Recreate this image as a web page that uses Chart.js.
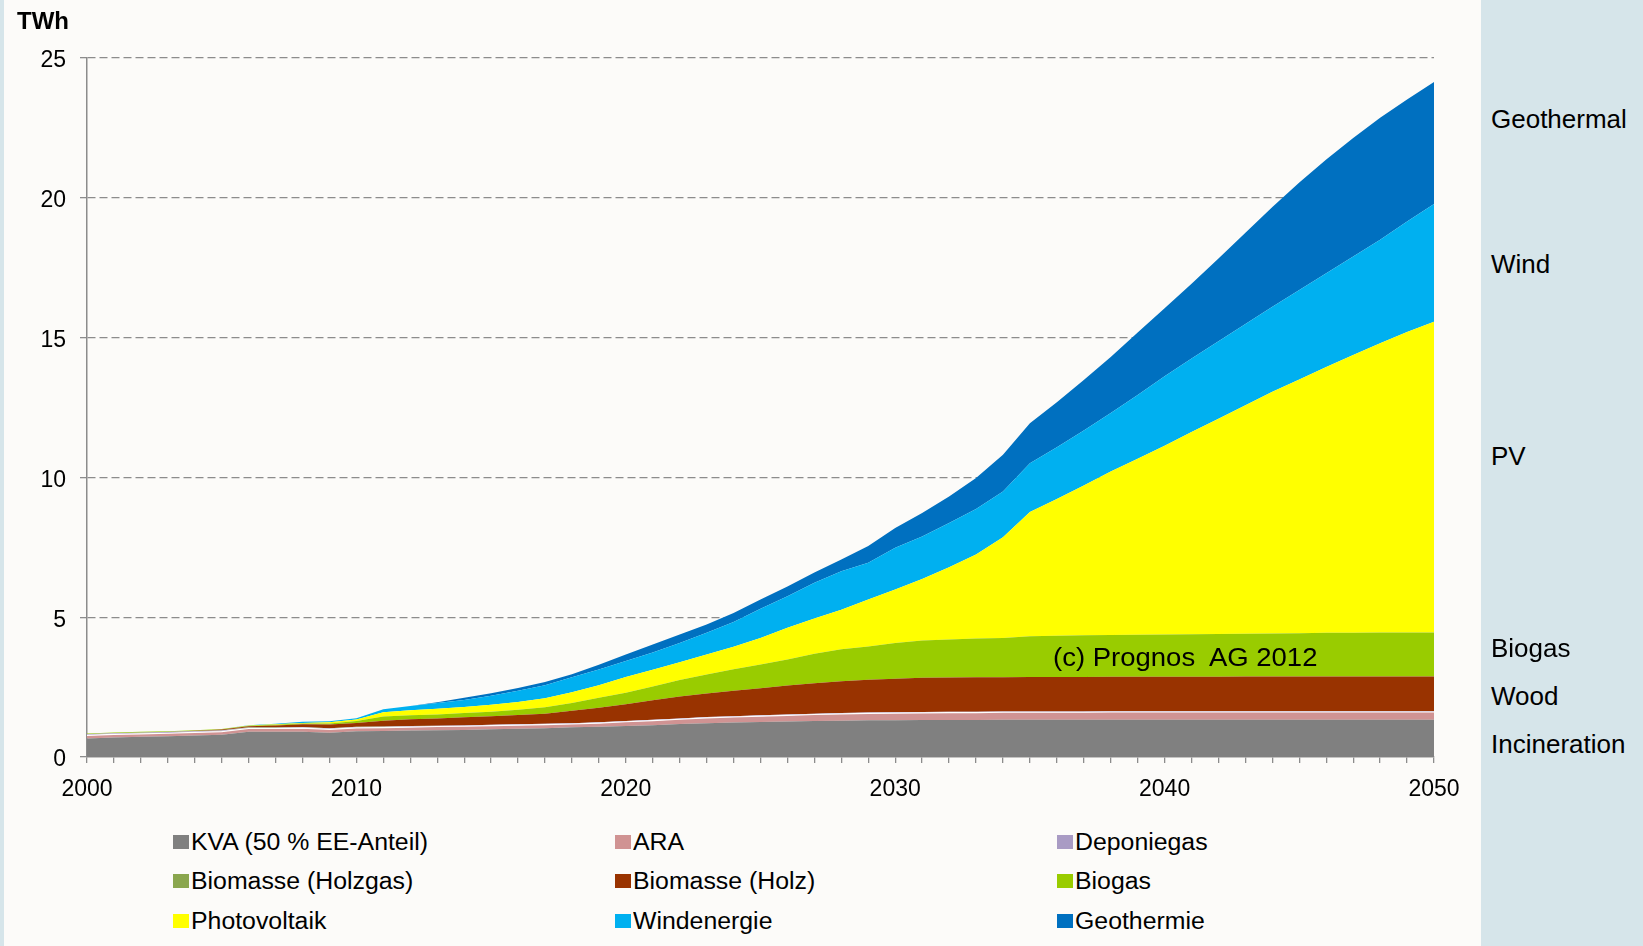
<!DOCTYPE html>
<html>
<head>
<meta charset="utf-8">
<title>Stromerzeugung erneuerbare Energien</title>
<script src="https://cdn.jsdelivr.net/npm/chart.js@4.4.1/dist/chart.umd.min.js"></script>
<style>
  body { margin: 0; width: 1643px; height: 946px; background: #d6e5ea; position: relative; overflow: hidden;
         font-family: 'Liberation Sans', Arial, sans-serif; color: #000; }
  #panel { position: absolute; left: 4px; top: 0; width: 1477px; height: 946px; background: #fcfbf9; }
  #chart { position: absolute; left: 0; top: 1px; }
  .unit { position: absolute; left: 13px; top: 7px; font-size: 24px; line-height: 28px; font-weight: bold; }
  .copy { position: absolute; left: 1049px; top: 643px; font-size: 25px; line-height: 28px;
          transform: scaleX(1.1); transform-origin: left center; white-space: nowrap; }
  .item { position: absolute; height: 26px; display: flex; align-items: center; white-space: nowrap; }
  .item .box { width: 16px; height: 14px; margin-right: 2px; }
  .item .txt { font-size: 23px; display: inline-block; transform: scaleX(1.08); transform-origin: left center; }
  .side { position: absolute; left: 1491px; font-size: 26px; line-height: 30px; white-space: nowrap; }
</style>
</head>
<body>
<div id="panel">
  <canvas id="chart" width="1477" height="800"></canvas>
  <div class="unit">TWh</div>
  <div class="copy">(c) Prognos&nbsp; AG 2012</div>
  <div id="legend"></div>
</div>
<div id="side"></div>
<script>
// Years 2000 - 2050
const years = [2000,2001,2002,2003,2004,2005,2006,2007,2008,2009,
  2010,2011,2012,2013,2014,2015,2016,2017,2018,2019,
  2020,2021,2022,2023,2024,2025,2026,2027,2028,2029,
  2030,2031,2032,2033,2034,2035,2036,2037,2038,2039,
  2040,2041,2042,2043,2044,2045,2046,2047,2048,2049,2050];

// TWh per source
const kva = [0.66,0.70,0.72,0.74,0.77,0.80,0.90,0.90,0.90,0.87,
  0.92,0.93,0.95,0.96,0.97,0.99,1.01,1.03,1.06,1.08,
  1.11,1.14,1.18,1.21,1.23,1.25,1.27,1.29,1.30,1.31,
  1.31,1.32,1.32,1.32,1.33,1.33,1.33,1.33,1.33,1.33,
  1.33,1.33,1.33,1.33,1.33,1.33,1.33,1.33,1.33,1.33,1.33];
const ara = [0.11,0.11,0.11,0.11,0.11,0.11,0.12,0.12,0.13,0.12,
  0.12,0.12,0.12,0.13,0.13,0.13,0.13,0.13,0.12,0.13,
  0.15,0.16,0.17,0.19,0.20,0.21,0.22,0.23,0.24,0.25,
  0.26,0.26,0.27,0.27,0.27,0.27,0.27,0.27,0.28,0.28,
  0.28,0.28,0.28,0.28,0.28,0.28,0.28,0.28,0.28,0.28,0.28];
const deponiegas = [0.04,0.04,0.04,0.04,0.04,0.04,0.03,0.03,0.03,0.03,
  0.03,0.03,0.03,0.03,0.03,0.03,0.03,0.03,0.03,0.03,
  0.03,0.03,0.03,0.03,0.03,0.03,0.03,0.03,0.03,0.03,
  0.03,0.03,0.03,0.03,0.03,0.03,0.03,0.03,0.03,0.03,
  0.03,0.03,0.03,0.03,0.03,0.03,0.03,0.03,0.03,0.03,0.03];
const holzgas = [0.01,0.01,0.01,0.01,0.01,0.01,0.01,0.01,0.01,0.01,
  0.01,0.01,0.01,0,0,0,0,0,0,0,
  0,0,0,0,0,0,0,0,0,0,
  0,0,0,0,0,0,0,0,0,0,
  0,0,0,0,0,0,0,0,0,0,0];
const holz = [0,0,0,0,0.01,0.02,0.04,0.07,0.10,0.13,
  0.14,0.21,0.24,0.26,0.29,0.31,0.33,0.36,0.44,0.52,
  0.60,0.70,0.78,0.84,0.91,0.97,1.04,1.09,1.14,1.17,
  1.20,1.22,1.22,1.23,1.22,1.23,1.23,1.23,1.23,1.23,
  1.23,1.23,1.23,1.24,1.24,1.24,1.24,1.24,1.24,1.24,1.24];
const biogas = [0.02,0.02,0.02,0.02,0.02,0.02,0.02,0.02,0.03,0.04,
  0.07,0.15,0.14,0.14,0.15,0.16,0.19,0.23,0.28,0.36,
  0.41,0.49,0.59,0.68,0.77,0.85,0.93,1.05,1.14,1.19,
  1.28,1.34,1.36,1.39,1.41,1.46,1.48,1.49,1.49,1.50,
  1.51,1.52,1.53,1.53,1.54,1.55,1.56,1.56,1.57,1.57,1.57];
const pv = [0,0,0,0,0,0,0.01,0.02,0.02,0.04,
  0.05,0.15,0.18,0.21,0.22,0.25,0.28,0.32,0.39,0.45,
  0.56,0.60,0.64,0.72,0.80,0.95,1.13,1.26,1.42,1.68,
  1.91,2.20,2.59,3.00,3.60,4.44,4.89,5.36,5.85,6.30,
  6.75,7.23,7.70,8.17,8.64,9.07,9.51,9.94,10.35,10.75,11.12];
const wind = [0,0,0,0,0,0,0.01,0.02,0.04,0.04,
  0.05,0.11,0.15,0.20,0.25,0.32,0.40,0.47,0.53,0.56,
  0.57,0.62,0.69,0.77,0.89,1.04,1.13,1.28,1.37,1.32,
  1.49,1.52,1.58,1.63,1.64,1.75,1.85,1.97,2.09,2.28,
  2.49,2.63,2.77,2.91,3.04,3.20,3.35,3.52,3.70,3.95,4.21];
const geo = [0,0,0,0,0,0,0,0,0,0,
  0,0,0,0.03,0.08,0.09,0.10,0.11,0.11,0.17,
  0.24,0.28,0.30,0.30,0.32,0.33,0.35,0.37,0.42,0.60,
  0.71,0.84,0.95,1.11,1.31,1.43,1.61,1.80,2.01,2.23,
  2.43,2.68,2.96,3.26,3.57,3.85,4.07,4.24,4.36,4.37,4.36];

const names = ["KVA (50 % EE-Anteil)", "ARA", "Deponiegas", "Biomasse (Holzgas)", "Biomasse (Holz)",
  "Biogas", "Photovoltaik", "Windenergie", "Geothermie"];
const colors = ["#808080", "#d09393", "#a99bc4", "#8aa64e", "#993300", "#99cc00", "#ffff00", "#00b0f0", "#0070c0"];
const series = [kva, ara, deponiegas, holzgas, holz, biogas, pv, wind, geo];

// labels on the blue strip at the right
const sideLabels = ["Geothermal", "Wind", "PV", "Biogas", "Wood", "Incineration"];
const sideTops = [104, 249, 441, 633, 681, 729];

const axisGray = "#8c8c8c";

var datasets = series.map(function (vals, i) {
  return {
    label: names[i],
    data: vals,
    backgroundColor: colors[i],
    borderColor: i === 1 ? "#ffffff" : "rgba(0,0,0,0)",
    borderWidth: i === 1 ? 1.2 : 0,
    fill: i === 0 ? "origin" : "-1",
    pointRadius: 0,
    tension: 0
  };
});

var stackChart = new Chart(document.getElementById("chart"), {
  type: "line",
  data: { labels: years, datasets: datasets },
  options: {
    responsive: false,
    animation: false,
    devicePixelRatio: 1,
    layout: { padding: { top: 57, right: 47, left: 0, bottom: 0 } },
    plugins: { legend: { display: false }, tooltip: { enabled: false } },
    scales: {
      x: {
        grid: { drawOnChartArea: false, tickLength: 6, color: axisGray, lineWidth: 1.3 },
        border: { color: axisGray, width: 1.5 },
        ticks: {
          autoSkip: false, maxRotation: 0, padding: 13, color: "#000",
          font: { size: 23, family: "'Liberation Sans', Arial, sans-serif" },
          callback: function (v, i) { return years[i] % 10 === 0 ? String(years[i]) : ""; }
        },
        afterFit: function (s) { s.height = 44; }
      },
      y: {
        stacked: true, min: 0, max: 25,
        ticks: { stepSize: 5, padding: 14, labelOffset: 3, color: "#000",
          font: { size: 23, family: "'Liberation Sans', Arial, sans-serif" } },
        grid: {
          color: function (c) { return c.tick && c.tick.value === 0 ? "rgba(0,0,0,0)" : axisGray; },
          tickColor: axisGray, tickLength: 7, lineWidth: 1.3
        },
        border: { dash: [8, 4], color: axisGray, width: 1.5 },
        afterFit: function (s) { s.width = 83; }
      }
    }
  }
});

// Legend: 3 columns, filled row by row
const colLeft = [169, 611, 1053];
const rowCenter = [842, 881, 921];
var legend = document.getElementById("legend");
names.forEach(function (n, i) {
  var item = document.createElement("div");
  item.className = "item";
  item.style.left = colLeft[i % 3] + "px";
  item.style.top = (rowCenter[Math.floor(i / 3)] - 13) + "px";
  item.innerHTML = '<span class="box" style="background:' + colors[i] + '"></span><span class="txt">' + n + '</span>';
  legend.appendChild(item);
});

var side = document.getElementById("side");
sideLabels.forEach(function (t, i) {
  var d = document.createElement("div");
  d.className = "side";
  d.style.top = sideTops[i] + "px";
  d.textContent = t;
  side.appendChild(d);
});
</script>
</body>
</html>
